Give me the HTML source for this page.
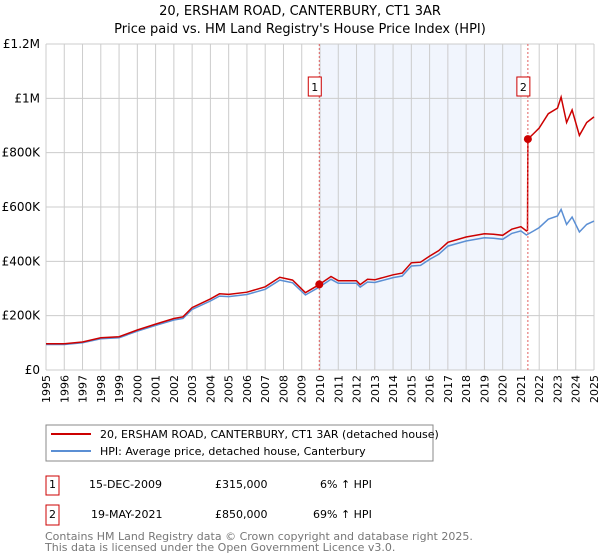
<!DOCTYPE html>
<html><head><meta charset="utf-8">
<style>
body{margin:0;width:600px;height:560px;background:#fff;font-family:"Liberation Sans","DejaVu Sans",sans-serif;overflow:hidden}
svg{position:absolute;left:0;top:0}
</style></head>
<body>
<svg width="600" height="560" viewBox="0 0 600 560" font-family="DejaVu Sans, Liberation Sans, sans-serif">
<text x="300" y="15" text-anchor="middle" font-size="13">20, ERSHAM ROAD, CANTERBURY, CT1 3AR</text>
<text x="300" y="33" text-anchor="middle" font-size="13">Price paid vs. HM Land Registry's House Price Index (HPI)</text>
<g id="plot"></g>
<rect x="46" y="425" width="387" height="36" fill="#fff" stroke="#888"/>
<line x1="51" y1="434" x2="91" y2="434" stroke="#cc0000" stroke-width="2"/>
<text x="100" y="438" font-size="11">20, ERSHAM ROAD, CANTERBURY, CT1 3AR (detached house)</text>
<line x1="51" y1="451" x2="91" y2="451" stroke="#5b8fd4" stroke-width="2"/>
<text x="100" y="455" font-size="11">HPI: Average price, detached house, Canterbury</text>
<rect x="46" y="476" width="13" height="19" fill="#fff" stroke="#cc0000"/>
<text x="52.5" y="488" text-anchor="middle" font-size="11">1</text>
<text x="89" y="488" font-size="11">15-DEC-2009</text>
<text x="215" y="488" font-size="11">£315,000</text>
<text x="320" y="488" font-size="11">6% ↑ HPI</text>
<rect x="46" y="505" width="13" height="20" fill="#fff" stroke="#cc0000"/>
<text x="52.5" y="518" text-anchor="middle" font-size="11">2</text>
<text x="91" y="518" font-size="11">19-MAY-2021</text>
<text x="215" y="518" font-size="11">£850,000</text>
<text x="313" y="518" font-size="11">69% ↑ HPI</text>
<text x="45" y="540" font-size="11" fill="#777">Contains HM Land Registry data © Crown copyright and database right 2025.</text>
<text x="45" y="551" font-size="11" fill="#777">This data is licensed under the Open Government Licence v3.0.</text>
</svg>
<script>
const yTicks=[0,200000,400000,600000,800000,1000000,1200000];
const yTickLabels=["£0","£200K","£400K","£600K","£800K","£1M","£1.2M"];
const xYears=[1995,1996,1997,1998,1999,2000,2001,2002,2003,2004,2005,2006,2007,2008,2009,2010,2011,2012,2013,2014,2015,2016,2017,2018,2019,2020,2021,2022,2023,2024,2025];
const hpiDates=[1995,1996,1997,1998,1999,2000,2001,2002,2002.5,2003,2004,2004.5,2005,2006,2007,2007.8,2008.5,2009.2,2009.9,2010.6,2011,2012,2012.2,2012.6,2013,2014,2014.5,2015,2015.5,2016,2016.5,2017,2018,2019,2019.5,2020,2020.5,2021,2021.3,2021.7,2022,2022.5,2023,2023.2,2023.5,2023.8,2024.2,2024.6,2025];
const hpiValues=[94000,94000,100000,115000,119000,143000,164000,184000,190000,223000,254000,272000,270000,278000,297000,331000,321000,276000,303000,334000,319000,319000,305000,324000,322000,340000,346000,383000,385000,407000,426000,456000,475000,487000,485000,481000,503000,512000,497000,512000,524000,555000,567000,591000,536000,563000,508000,536000,548000];
const saleDates=[2009.96,2021.38];
const salePrices=[315000,850000];
const saleLabels=["1","2"];

const X0=46,X1=594,Y0=370,Y1=44;
const xs=t=>X0+(t-1995)/(2025-1995)*(X1-X0);
const ys=v=>Y0-v/1200000*(Y0-Y1);
const NS="http://www.w3.org/2000/svg";
const g=document.getElementById('plot');
function mk(tag,attrs){const e=document.createElementNS(NS,tag);for(const k in attrs)e.setAttribute(k,attrs[k]);g.appendChild(e);return e;}
function interp(t){for(let i=0;i<hpiDates.length-1;i++){if(t<=hpiDates[i+1]){const f=(t-hpiDates[i])/(hpiDates[i+1]-hpiDates[i]);return hpiValues[i]+f*(hpiValues[i+1]-hpiValues[i]);}}return hpiValues[hpiValues.length-1];}

let sh=mk('rect',{x:xs(saleDates[0]),y:Y1,width:xs(2021.0)-xs(saleDates[0]),height:Y0-Y1,fill:'#eef3fc',opacity:0.8});


xYears.forEach(yr=>{
 let l=mk('line',{x1:xs(yr),x2:xs(yr),y1:Y1,y2:Y0,stroke:'#ccc','stroke-width':1});
 
 
 let t=mk('text',{x:0,y:0,'font-size':11,'text-anchor':'end',transform:`translate(${xs(yr)+4},${Y0+5}) rotate(-90)`});
 t.textContent=yr;
 
 
});
yTicks.forEach((v,i)=>{
 let l=mk('line',{x1:X0,x2:X1,y1:ys(v),y2:ys(v),stroke:'#ccc','stroke-width':1});
 
 
 let t=mk('text',{x:40,y:ys(v)+4,'font-size':12,'text-anchor':'end'});
 t.textContent=yTickLabels[i];
 
 
});
let pts=hpiDates.map((d,i)=>xs(d).toFixed(1)+','+ys(hpiValues[i]).toFixed(1)).join(' ');
let hp=mk('polyline',{points:pts,fill:'none',stroke:'#5b8fd4','stroke-width':1.5});


const r1=salePrices[0]/interp(saleDates[0]);
const r2=salePrices[1]/interp(saleDates[1]);
let rp=[];
hpiDates.forEach((d,i)=>{if(d<saleDates[1])rp.push([d,hpiValues[i]*r1]);});
rp.push([saleDates[1]-0.02,interp(saleDates[1]-0.02)*r1]);
rp.push([saleDates[1],salePrices[1]]);
hpiDates.forEach((d,i)=>{if(d>saleDates[1])rp.push([d,hpiValues[i]*r2]);});
let pl=mk('polyline',{points:rp.map(p=>xs(p[0]).toFixed(1)+','+ys(p[1]).toFixed(1)).join(' '),fill:'none',stroke:'#cc0000','stroke-width':1.5});


saleDates.forEach((d,i)=>{
 let l=mk('line',{x1:xs(d),x2:xs(d),y1:Y1,y2:Y0,stroke:'#e06060','stroke-width':1,'stroke-dasharray':'2,2'});
 
 
 let c=mk('circle',{cx:xs(d),cy:ys(salePrices[i]),r:4,fill:'#cc0000'});
 
 
 let b=mk('rect',{x:xs(d)-11,y:77,width:13,height:19,fill:'#fff',stroke:'#cc0000'});
 
 
 let t=mk('text',{x:xs(d)-4.5,y:91,'font-size':11,'text-anchor':'middle'});
 t.textContent=saleLabels[i];
 
 
});
</script>
</body></html>
